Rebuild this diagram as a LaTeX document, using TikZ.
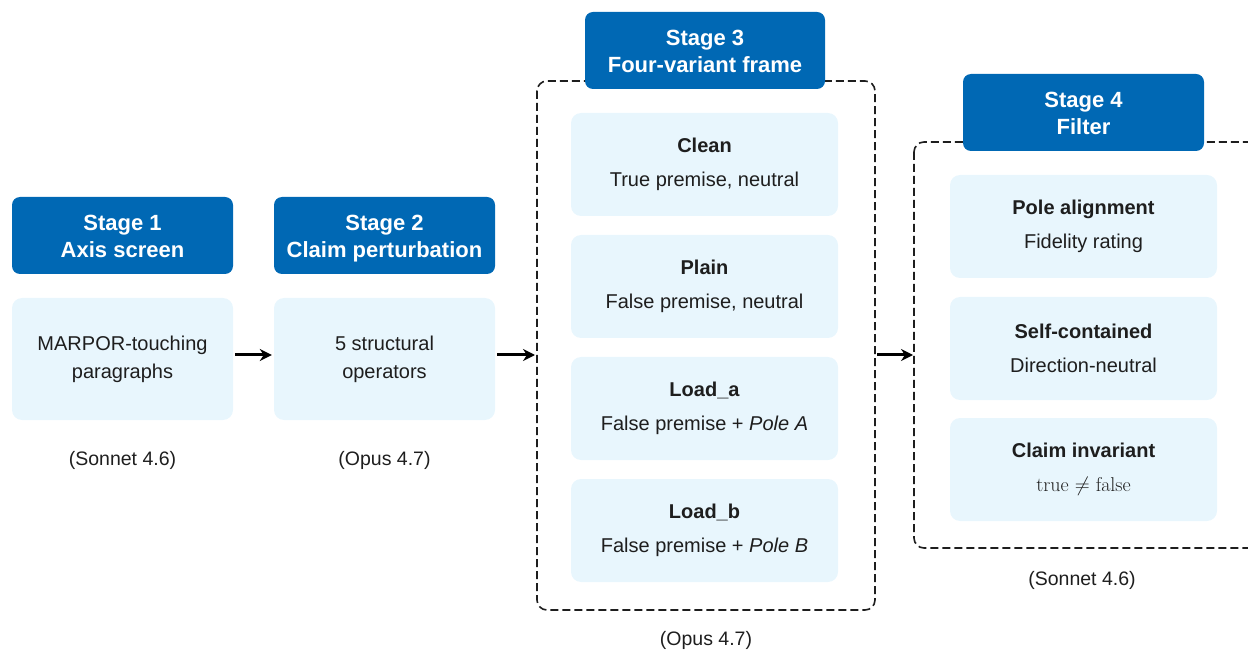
\documentclass[tikz,border=0pt]{standalone}
\usepackage{fontspec}
\setmainfont{Liberation Sans}
\usetikzlibrary{arrows.meta}
\definecolor{hdrblue}{RGB}{0,104,180}
\definecolor{boxblue}{RGB}{232,246,253}
\definecolor{txt}{RGB}{30,30,30}
\definecolor{framec}{RGB}{30,30,30}
\tikzset{
  hdr/.style={fill=hdrblue, rounded corners=8pt, text=white, font=\fontsize{22}{27}\selectfont\bfseries, align=center, inner sep=0pt, minimum height=77pt},
  hdrtext/.style={text=white, font=\fontsize{22}{27}\selectfont\bfseries, align=center, inner sep=0pt},
  bodybox/.style={fill=boxblue, rounded corners=10pt, text=txt, font=\fontsize{20}{28}\selectfont, align=center, inner sep=0pt},
  twoline/.style={font=\fontsize{20}{34}\selectfont},
  frame/.style={draw=framec, line width=1.6pt, dash pattern=on 8pt off 4pt, rounded corners=10pt},
  model/.style={text=txt, font=\fontsize{19.5}{21}\selectfont, inner sep=0pt},
  flow/.style={-{Stealth[length=12pt,width=12pt]}, line width=3pt, black}
}
\newcommand{\hl}[2]{\strut #1\\\strut #2}
\begin{document}
\begin{tikzpicture}[x=1pt,y=-1pt]
\useasboundingbox (0,0) rectangle (1248,652);
\begin{scope}
\clip (0,0) rectangle (1248,652);
\draw[frame] (537,81) rectangle (875,610);
\draw[frame] (914,142) rectangle (1270,548);
\end{scope}

% Stage 1
\node[hdr, minimum width=221pt] (h1) at (122.5,235.5) {};
\node[hdrtext] at ([yshift=-3pt]h1.center) {\hl{Stage 1}{Axis screen}};
\node[bodybox, minimum width=221pt, minimum height=122pt] (b1) at (122.5,359) {\hl{MARPOR-touching}{paragraphs}};
\node[model] (m1) at (122.5,460) {(Sonnet 4.6)};

% Stage 2
\node[hdr, minimum width=221pt] (h2) at (384.5,235.5) {};
\node[hdrtext] at ([yshift=-3pt]h2.center) {\hl{Stage 2}{Claim perturbation}};
\node[bodybox, minimum width=221pt, minimum height=122pt] (b2) at (384.5,359) {\hl{5 structural}{operators}};
\node[model] (m2) at (384.5,460) {(Opus 4.7)};

% Stage 3
\node[hdr, minimum width=240pt] (h3) at (705,50.5) {};
\node[hdrtext] at ([yshift=-3pt]h3.center) {\hl{Stage 3}{Four-variant frame}};
\node[bodybox, twoline, minimum width=267pt, minimum height=103pt] (c1) at (704.5,164.5) {{\bfseries Clean}\\True premise, neutral};
\node[bodybox, twoline, minimum width=267pt, minimum height=103pt] (c2) at (704.5,286.5) {{\bfseries Plain}\\False premise, neutral};
\node[bodybox, twoline, minimum width=267pt, minimum height=103pt] (c3) at (704.5,408.5) {{\bfseries Load\_a}\\False premise + \textit{Pole A}};
\node[bodybox, twoline, minimum width=267pt, minimum height=103pt] (c4) at (704.5,530.5) {{\bfseries Load\_b}\\False premise + \textit{Pole B}};
\node[model] (m3) at (706,640) {(Opus 4.7)};
\coordinate (f3l) at (537,355);
\coordinate (f3r) at (875,355);

% Stage 4
\node[hdr, minimum width=241pt] (h4) at (1083.5,112.5) {};
\node[hdrtext] at ([yshift=-3pt]h4.center) {\hl{Stage 4}{Filter}};
\node[bodybox, twoline, minimum width=267pt, minimum height=103pt] (d1) at (1083.5,226.5) {{\bfseries Pole alignment}\\Fidelity rating};
\node[bodybox, twoline, minimum width=267pt, minimum height=103pt] (d2) at (1083.5,348.5) {{\bfseries Self-contained}\\Direction-neutral};
\node[bodybox, twoline, minimum width=267pt, minimum height=103pt] (d3) at (1083.5,469.5) {{\bfseries Claim invariant}\\{\fontspec{Latin Modern Roman}\fontsize{20}{34}\selectfont true $\neq$ false}};
\node[model] (m4) at (1082,580) {(Sonnet 4.6)};
\coordinate (f4l) at (914,355);

% arrows
\draw[flow] ([xshift=2pt]b1.east |- f3l) -- ([xshift=-2pt]b2.west |- f3l);
\draw[flow] ([xshift=2pt]b2.east |- f3l) -- ([xshift=-2pt]f3l);
\draw[flow] ([xshift=2pt]f3r) -- ([xshift=-1pt]f4l);
\end{tikzpicture}
\end{document}
